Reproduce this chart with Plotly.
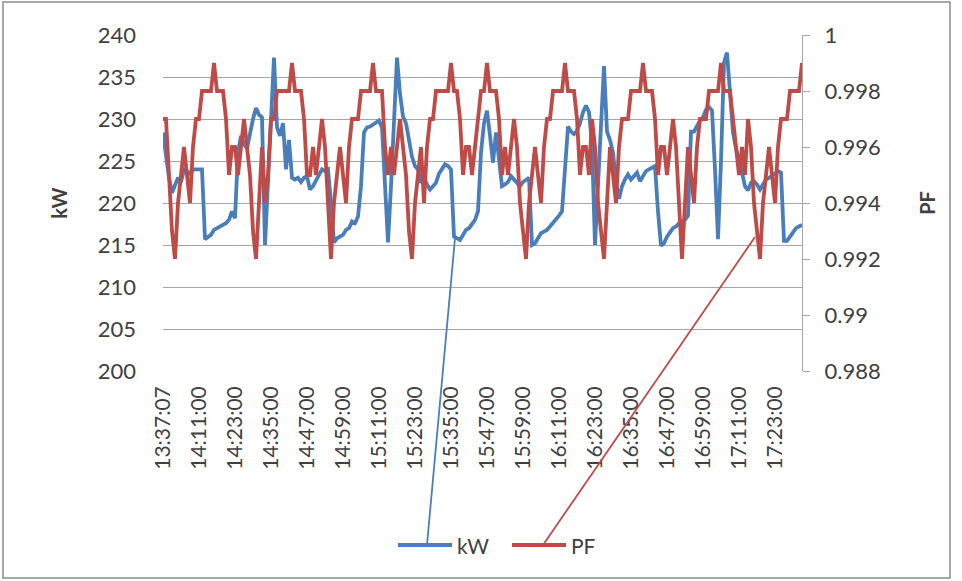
import plotly.graph_objects as go

# ---- data ----
tick_labels = ["13:37:07", "14:11:00", "14:23:00", "14:35:00", "14:47:00", "14:59:00",
               "15:11:00", "15:23:00", "15:35:00", "15:47:00", "15:59:00", "16:11:00",
               "16:23:00", "16:35:00", "16:47:00", "16:59:00", "17:11:00", "17:23:00"]
tick_step = 12  # samples between labelled categories

kw = [228.4, 225.5, 223.0, 221.2, 222.0, 223.0, 222.5, 224.0, 223.8, 223.5, 224.0, 224.0, 224.0, 224.0,
      215.7, 216.0, 216.2, 216.8, 217.0, 217.2, 217.5, 217.6, 218.0, 219.0, 218.2,
      226.0, 228.0, 227.0, 226.5, 228.5, 230.0, 231.3, 230.5, 230.2,
      215.0, 222.5, 230.0, 237.3, 229.0, 228.0, 229.5, 224.0, 227.5,
      223.0, 222.8, 223.0, 222.5, 223.0, 223.2, 221.6, 222.0, 222.6, 223.4, 224.0, 223.8, 224.0, 220.0,
      215.3, 215.8, 216.0, 216.2, 216.8, 217.0, 217.8, 217.6, 218.4, 222.0,
      228.4, 229.0, 229.1, 229.3, 229.6, 229.8, 229.0,
      222.0, 215.3, 222.0, 230.0, 237.3, 233.0,
      230.3, 229.5, 227.5, 225.5, 224.4, 224.0, 222.4, 223.0, 222.2, 221.6, 222.0, 222.4, 223.5, 224.0, 224.6, 224.4, 224.0,
      216.0, 215.8, 215.6, 216.2, 216.8, 217.0, 217.5, 218.0, 219.0,
      226.0, 229.5, 231.0, 228.0, 224.8, 228.4, 225.0,
      222.0, 222.2, 222.5, 223.2, 222.8, 222.4, 222.0, 222.5, 222.8, 223.0,
      215.0, 215.2, 215.8, 216.4, 216.6, 216.8, 217.2, 217.6, 218.0, 218.5, 219.0,
      224.0, 229.1, 228.5, 228.2, 228.6, 229.5, 230.8, 231.6, 230.8, 227.0,
      215.0, 222.0, 230.0, 236.3, 228.5, 227.5, 226.0,
      222.5, 220.5, 222.0, 222.8, 223.4, 222.8, 223.2, 223.6, 222.6, 223.2, 223.8, 224.0, 224.2, 224.4,
      219.0, 214.9, 215.2, 216.0, 216.5, 217.0, 217.2, 217.6, 217.8, 218.0, 218.5,
      228.5, 228.5, 229.2, 229.8, 230.2, 231.1, 231.4, 231.0,
      224.0, 215.7, 225.0, 236.7, 237.9, 233.0, 228.4,
      226.5, 224.8, 223.6, 222.0, 221.5, 222.4, 222.6, 222.2, 221.6, 222.2, 222.8, 223.0, 223.2, 223.5, 223.8, 223.6,
      215.5, 215.5, 216.0, 216.6, 217.0, 217.2, 217.4]

pf = [0.997, 0.997, 0.995, 0.993, 0.992, 0.994, 0.995, 0.996, 0.995, 0.994, 0.996, 0.997, 0.997, 0.998, 0.998, 0.998,
      0.998, 0.999, 0.998, 0.998, 0.998, 0.997, 0.995, 0.996, 0.996, 0.995, 0.996, 0.997, 0.996, 0.995, 0.993, 0.992,
      0.994, 0.996, 0.994, 0.995, 0.997, 0.997, 0.998, 0.998, 0.998, 0.998, 0.998, 0.999, 0.998, 0.998, 0.998, 0.997,
      0.995, 0.995, 0.996, 0.995, 0.996, 0.997, 0.996, 0.994, 0.992,
      0.994, 0.995, 0.996, 0.995, 0.994, 0.996, 0.997, 0.997, 0.997, 0.998, 0.998, 0.998, 0.998, 0.999, 0.998, 0.998,
      0.998, 0.996, 0.995, 0.996, 0.995, 0.996, 0.997, 0.996, 0.995, 0.993, 0.992,
      0.994, 0.995, 0.996, 0.994, 0.996, 0.997, 0.997, 0.998, 0.998, 0.998, 0.998, 0.998, 0.999, 0.998, 0.998, 0.997,
      0.995, 0.996, 0.996, 0.995, 0.996, 0.997, 0.998, 0.998, 0.999, 0.998, 0.998, 0.998, 0.997, 0.995, 0.996, 0.995,
      0.996, 0.997, 0.996, 0.994, 0.993, 0.992,
      0.994, 0.995, 0.996, 0.995, 0.994, 0.996, 0.997, 0.997, 0.998, 0.998, 0.998, 0.998, 0.999, 0.998, 0.998, 0.998,
      0.997, 0.995, 0.996, 0.996, 0.995, 0.997, 0.996, 0.994, 0.993, 0.992,
      0.994, 0.996, 0.995, 0.994, 0.996, 0.997, 0.997, 0.997, 0.998, 0.998, 0.998, 0.998, 0.999, 0.998, 0.998, 0.998,
      0.997, 0.995, 0.996, 0.996, 0.995, 0.996, 0.997, 0.996, 0.994, 0.992,
      0.994, 0.996, 0.995, 0.994, 0.996, 0.997, 0.997, 0.997, 0.998, 0.998, 0.998, 0.998, 0.999, 0.998, 0.998, 0.998,
      0.997, 0.996, 0.995, 0.996, 0.995, 0.997, 0.996, 0.994, 0.993, 0.992,
      0.994, 0.995, 0.996, 0.995, 0.994, 0.996, 0.997, 0.997, 0.997, 0.998, 0.998, 0.998, 0.998, 0.999]

kw_ticks = [200, 205, 210, 215, 220, 225, 230, 235, 240]
pf_ticks = [0.988, 0.99, 0.992, 0.994, 0.996, 0.998, 1.0]
pf_tick_text = ["0.988", "0.99", "0.992", "0.994", "0.996", "0.998", "1"]
series_names = ["kW", "PF"]

# ---- figure ----
BLUE = "#4A7EBB"
RED = "#BE4B48"
GRID = "#A6A6A6"
TXT = "#404040"
FONT = "Lato, 'Liberation Sans', Arial, sans-serif"

x = list(range(len(kw)))
tickvals = [i * tick_step for i in range(len(tick_labels))]

fig = go.Figure()
fig.add_trace(go.Scatter(x=x, y=kw, name=series_names[0], mode="lines",
                         line=dict(color=BLUE, width=3.8), yaxis="y", showlegend=False))
fig.add_trace(go.Scatter(x=x, y=pf, name=series_names[1], mode="lines",
                         line=dict(color=RED, width=3.8), yaxis="y2", showlegend=False))

LEG_Y = -0.5179
fig.update_layout(
    width=962, height=581,
    margin=dict(l=163, r=160, t=35, b=210),
    paper_bgcolor="white", plot_bgcolor="white",
    font=dict(family=FONT, color=TXT),
    xaxis=dict(range=[0, len(kw) - 1], tickmode="array", tickvals=tickvals, ticktext=tick_labels,
               tickangle=-90, tickfont=dict(size=21, color=TXT), showgrid=False,
               zeroline=False, showline=False, ticks="", ticklabelstandoff=10),
    yaxis=dict(range=[200, 240], tickmode="array", tickvals=kw_ticks,
               tickfont=dict(size=22, color=TXT), showgrid=True, gridcolor=GRID, gridwidth=1.4,
               zeroline=False, showline=False, ticks="", ticklabelstandoff=26,
               title=dict(text="<b>kW</b>", font=dict(size=20, color=TXT), standoff=24)),
    yaxis2=dict(range=[0.988, 1.0], overlaying="y", side="right", tickmode="array",
                tickvals=pf_ticks, ticktext=pf_tick_text,
                tickfont=dict(size=22, color=TXT), showgrid=False, zeroline=False,
                showline=True, linecolor=GRID, linewidth=1.4,
                ticks="outside", ticklen=7, tickcolor=GRID, ticklabelstandoff=10,
                title=dict(text="<b>PF</b>", font=dict(size=20, color=TXT), standoff=40)),
    shapes=[
        # chart border
        dict(type="rect", xref="paper", yref="paper", x0=-0.2504, x1=1.2316, y0=-0.6161, y1=1.098,
             line=dict(color="#8C8C8C", width=1.5), fillcolor="rgba(0,0,0,0)", layer="below"),
        # legend keys
        dict(type="line", xref="paper", yref="paper", x0=0.3678, x1=0.4523, y0=LEG_Y, y1=LEG_Y,
             line=dict(color=BLUE, width=4)),
        dict(type="line", xref="paper", yref="paper", x0=0.5462, x1=0.6307, y0=LEG_Y, y1=LEG_Y,
             line=dict(color=RED, width=4)),
        # leader lines from legend
        dict(type="line", xref="paper", yref="paper", x0=0.457, y0=0.3958, x1=0.4131, y1=LEG_Y,
             line=dict(color=BLUE, width=1.8)),
        dict(type="line", xref="paper", yref="paper", x0=0.9264, y0=0.3988, x1=0.5947, y1=LEG_Y,
             line=dict(color=RED, width=1.8)),
    ],
    annotations=[
        dict(text=series_names[0], xref="paper", yref="paper", x=0.4570, y=LEG_Y,
             xanchor="left", yanchor="middle", showarrow=False, font=dict(size=21, color=TXT)),
        dict(text=series_names[1], xref="paper", yref="paper", x=0.6354, y=LEG_Y,
             xanchor="left", yanchor="middle", showarrow=False, font=dict(size=21, color=TXT)),
    ],
)

fig.write_html("out.html")
